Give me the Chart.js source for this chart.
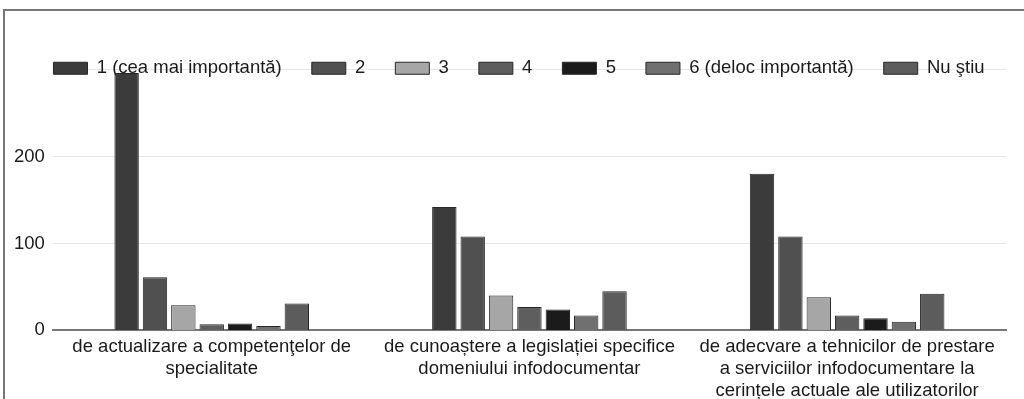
<!DOCTYPE html>
<html>
<head>
<meta charset="utf-8">
<script src="https://cdn.jsdelivr.net/npm/chart.js@4.4.0/dist/chart.umd.min.js"></script>
<style>
  html, body { margin: 0; padding: 0; background: #fff; }
  #wrap { position: relative; width: 1024px; height: 399px; }
  #frame { position: absolute; left: 3px; top: 9px; right: 0; bottom: 0;
           border-left: 2px solid #777; border-top: 2px solid #777; }
  canvas { position: absolute; left: 0; top: 0; }
</style>
</head>
<body>
<div id="wrap">
  <div id="frame"></div>
  <canvas id="chart" width="1024" height="399"></canvas>
</div>
<script>
const categories = [
    ["de actualizare a competenţelor de", "specialitate"],
    ["de cunoaștere a legislației specifice", "domeniului infodocumentar"],
    ["de adecvare a tehnicilor de prestare", "a serviciilor infodocumentare la", "cerințele actuale ale utilizatorilor"]
];
const seriesNames = ["1 (cea mai importantă)", "2", "3", "4", "5", "6 (deloc importantă)", "Nu ştiu"];
const rank1 = [296, 142, 180];
const rank2 = [61, 108, 108];
const rank3 = [29, 40, 38];
const rank4 = [7, 27, 17];
const rank5 = [8, 24, 14];
const rank6 = [5, 17, 10];
const dontKnow = [31, 45, 42];
const yTicks = [0, 100, 200];

const colors = ["#3b3b3b", "#505050", "#a6a6a6", "#5e5e5e", "#1b1b1b", "#707070", "#5c5c5c"];
const values = [rank1, rank2, rank3, rank4, rank5, rank6, dontKnow];

const topPad = 29;
const plotTop = 69.5;

// legend overlaps the top of the plot like in the original
const legendOverlap = {
    id: "legendOverlap",
    beforeInit(chart) {
        const fit = chart.legend.fit;
        chart.legend.fit = function () {
            fit.bind(chart.legend)();
            this.fullHeight = this.height;
            this.height = plotTop - topPad;
        };
    },
    afterLayout(chart) {
        const lg = chart.legend;
        lg.bottom = lg.top + lg.fullHeight;
        lg.left += 13;
        lg.right += 13;
    }
};

const ctx = document.getElementById("chart").getContext("2d");
new Chart(ctx, {
    type: "bar",
    data: {
        labels: categories,
        datasets: seriesNames.map((name, i) => ({
            label: name,
            data: values[i],
            backgroundColor: colors[i],
            borderColor: "#262626",
            borderWidth: 1,
            categoryPercentage: 0.625,
            barPercentage: 0.86
        }))
    },
    options: {
        responsive: false,
        animation: false,
        layout: { padding: { top: topPad, right: 18, left: 6, bottom: 0 } },
        plugins: {
            legend: {
                position: "top",
                labels: {
                    boxWidth: 34,
                    boxHeight: 12,
                    padding: 30,
                    color: "#1a1a1a",
                    font: { family: "Liberation Sans", size: 18.5 }
                }
            },
            tooltip: { enabled: false }
        },
        scales: {
            x: {
                grid: { display: false },
                border: { color: "#777", width: 2 },
                ticks: {
                    color: "#1a1a1a",
                    maxRotation: 0,
                    autoSkip: false,
                    padding: -3,
                    font: { family: "Liberation Sans", size: 18.5, lineHeight: 1.2 }
                }
            },
            y: {
                min: 0,
                max: 300,
                afterBuildTicks(scale) {
                    scale.ticks = yTicks.concat([300]).map(v => ({ value: v }));
                },
                grid: { color: "#e6e6e6", drawTicks: false },
                border: { display: false },
                ticks: {
                    color: "#1a1a1a",
                    padding: 8,
                    font: { family: "Liberation Sans", size: 18.5 },
                    callback: v => yTicks.includes(v) ? v : ""
                }
            }
        }
    },
    plugins: [legendOverlap]
});
</script>
</body>
</html>
